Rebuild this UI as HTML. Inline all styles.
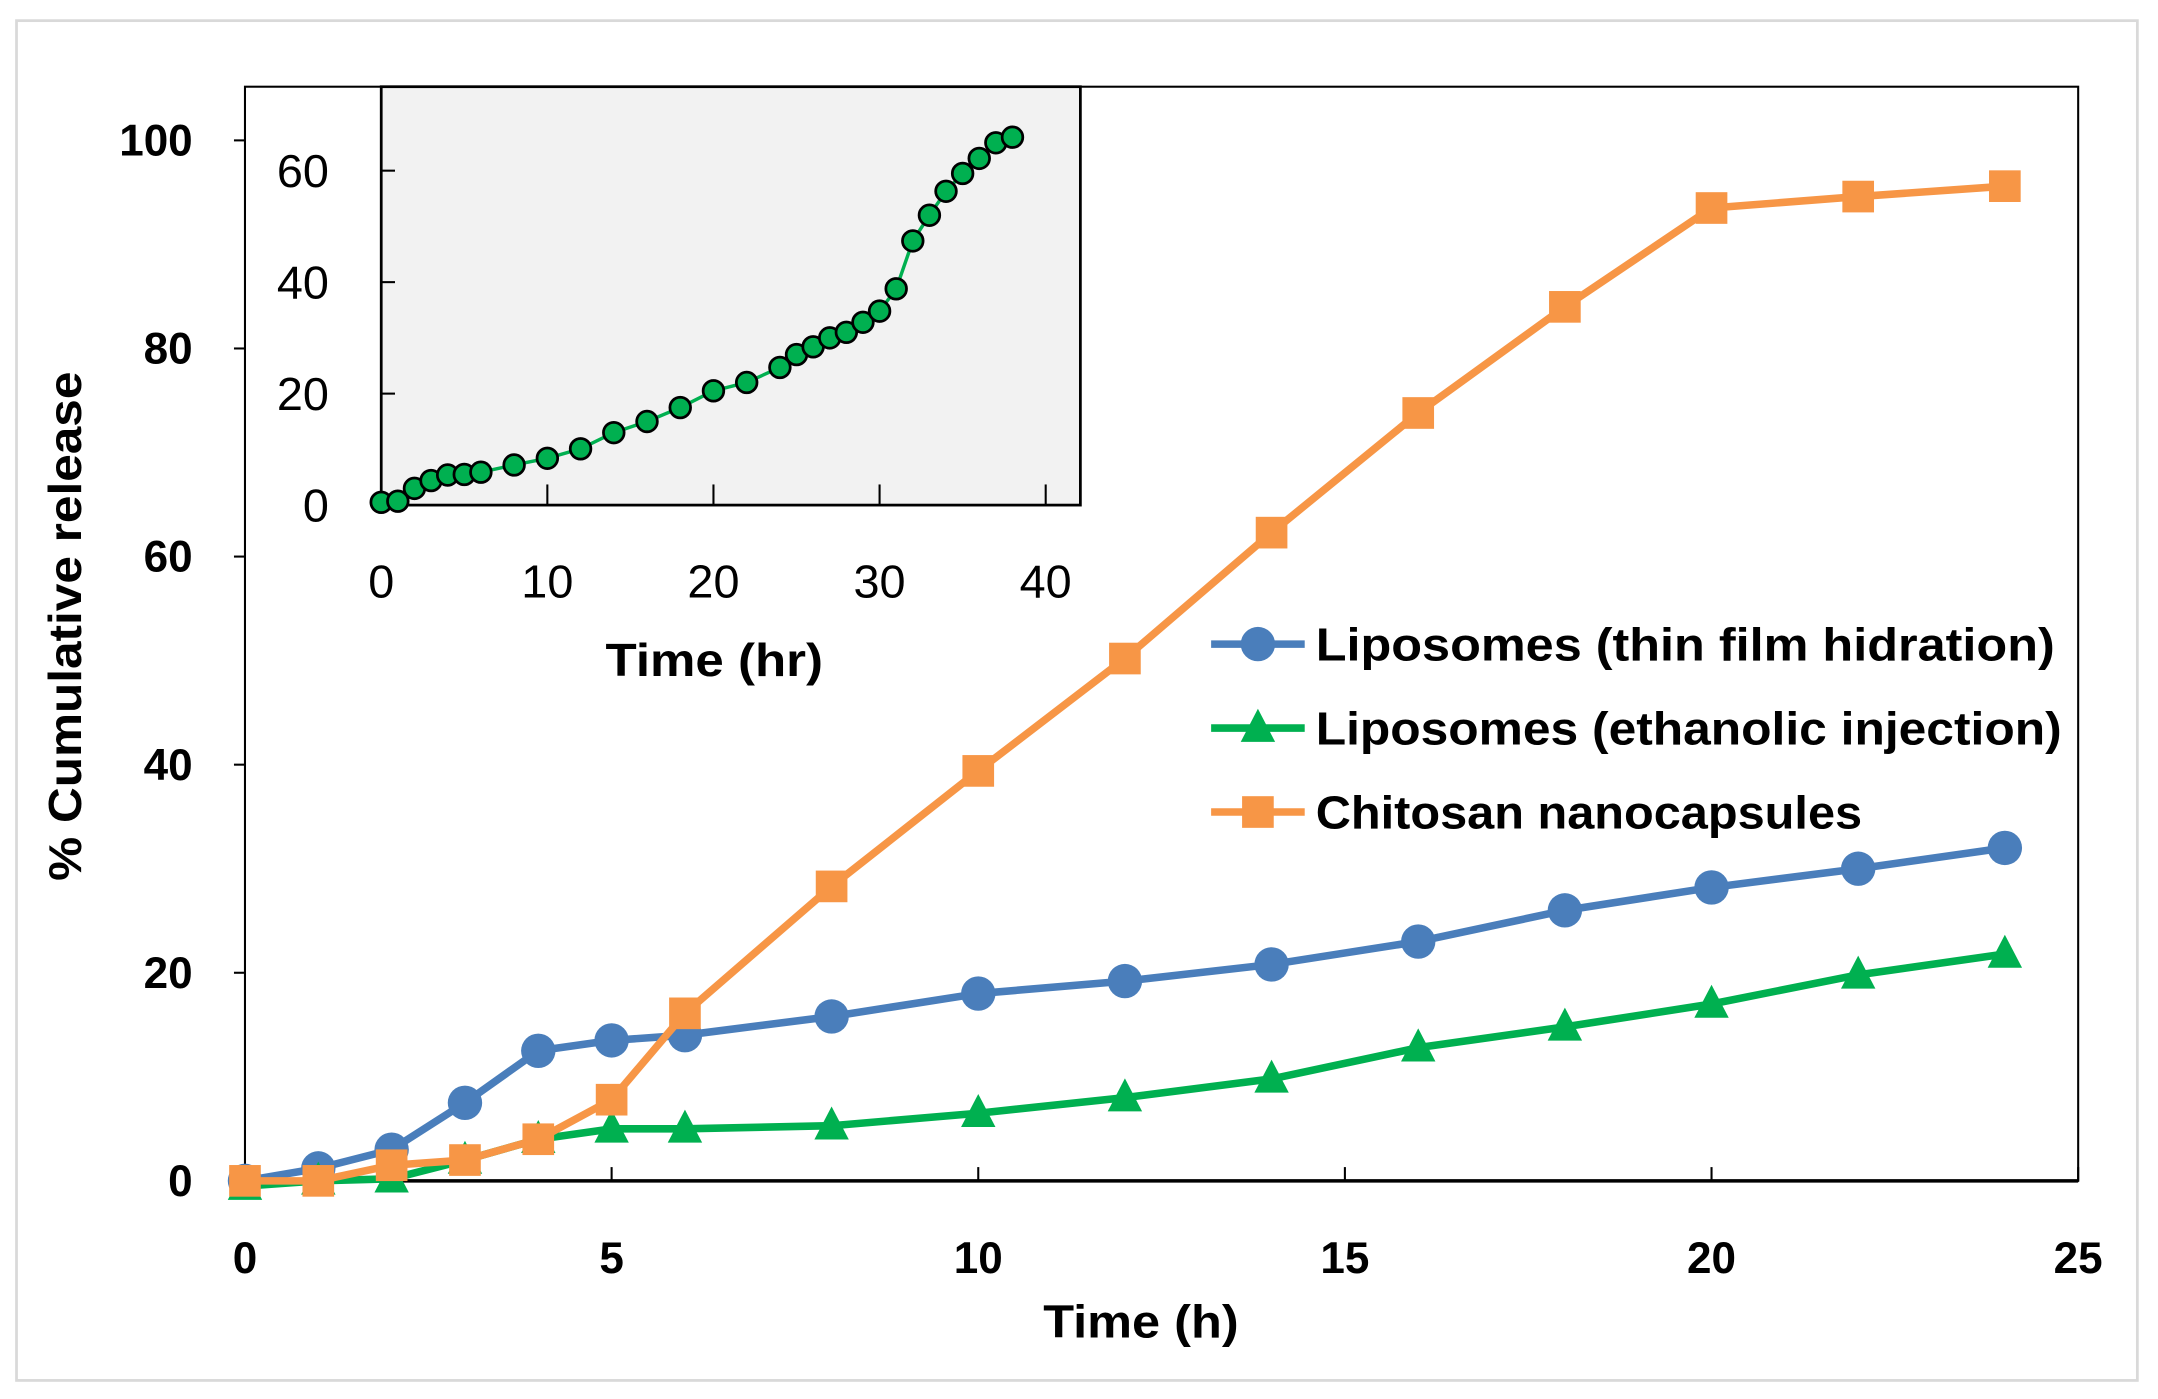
<!DOCTYPE html>
<html><head><meta charset="utf-8"><style>
html,body{margin:0;padding:0;background:#fff}
svg{display:block}
text{font-family:"Liberation Sans",sans-serif}
</style></head><body>
<svg id="chart" width="2158" height="1399" viewBox="0 0 1568 1016.5" preserveAspectRatio="none" xmlns="http://www.w3.org/2000/svg">
<rect x="12" y="15" width="1541" height="988" fill="#fff" stroke="#d9d9d9" stroke-width="2"/>
<g id="main"></g>
<g id="inset"></g>
</svg>
<script>
const mainHours=[0,1,2,3,4,5,6,8,10,12,14,16,18,20,22,24];
const liposomesThinFilm=[0,1.2,3,7.5,12.5,13.5,14,15.8,18,19.2,20.8,23,26,28.2,30,32];
const liposomesEthanolic=[-0.5,0,0.2,2,4,5,5,5.3,6.5,8,9.8,12.8,14.8,17,19.8,21.8];
const chitosanNanocapsules=[0,0,1.5,2,4,7.8,16.1,28.3,39.4,50.2,62.3,73.8,84,93.5,94.6,95.6];
const mainXTicks=[0,5,10,15,20,25];
const mainYTicks=[0,20,40,60,80,100];
const insetHours=[0,1,2,3,4,5,6,8,10,12,14,16,18,20,22,24,25,26,27,28,29,30,31,32,33,34,35,36,37,38];
const insetRelease=[0.5,0.7,3,4.4,5.4,5.5,5.9,7.2,8.4,10.1,13,15,17.5,20.5,22,24.7,27,28.4,30,31,32.8,34.8,38.8,47.4,52,56.3,59.5,62.2,65,66];
const insetXTicks=[0,10,20,30,40];
const insetYTicks=[0,20,40,60];

const NS="http://www.w3.org/2000/svg";
function mk(tag,attrs,parent,txt){const e=document.createElementNS(NS,tag);for(const k in attrs)e.setAttribute(k,attrs[k]);if(txt!==undefined)e.textContent=txt;parent.appendChild(e);return e;}
const main=document.getElementById('main'),inset=document.getElementById('inset');
const L=178,R=1510,T=63,B=858;
const mx=v=>L+v*(R-L)/25;
const my=v=>B-v*7.56;
let e=mk('rect',{x:L,y:T,width:R-L,height:B-T,fill:'#fff',stroke:'#000','stroke-width':1.5},main);


e=mk('line',{x1:L,y1:B,x2:R,y2:B,stroke:'#000','stroke-width':2.5},main);


mainYTicks.forEach(v=>{
  const t=mk('line',{x1:L-8,y1:my(v),x2:L,y2:my(v),stroke:'#000','stroke-width':1.5},main);
  
  
  const l=mk('text',{x:140,y:my(v)+11,'text-anchor':'end','font-size':32,'font-weight':'bold'},main,String(v));
  
  
});
mainXTicks.forEach(v=>{
  const t=mk('line',{x1:mx(v),y1:B,x2:mx(v),y2:B-10,stroke:'#000','stroke-width':1.5},main);
  
  
  const l=mk('text',{x:mx(v),y:925,'text-anchor':'middle','font-size':32,'font-weight':'bold'},main,String(v));
  
  
});
e=mk('text',{x:758,y:972,'font-size':34,'font-weight':'bold',textLength:142,lengthAdjust:'spacingAndGlyphs'},main,'Time (h)');


e=mk('text',{x:0,y:0,transform:'translate(59,640) rotate(-90)','font-size':34,'font-weight':'bold',textLength:370,lengthAdjust:'spacingAndGlyphs'},main,'% Cumulative release');



function marker(g,type,x,y,color){
  let m;
  if(type==='circle')m=mk('circle',{cx:x,cy:y,r:12.5,fill:color},g);
  else if(type==='square')m=mk('rect',{x:x-11.5,y:y-11.5,width:23,height:23,fill:color},g);
  else m=mk('polygon',{points:`${x},${y-14} ${x-12.5},${y+10} ${x+12.5},${y+10}`,fill:color},g);
  return m;
}
const series=[
  {name:'liposomes-thin-film',vals:liposomesThinFilm,color:'#4a7ebb',type:'circle'},
  {name:'liposomes-ethanolic',vals:liposomesEthanolic,color:'#00b050',type:'triangle'},
  {name:'chitosan-nanocapsules',vals:chitosanNanocapsules,color:'#f79646',type:'square'}
];
series.forEach(s=>{
  const g=mk('g',{},main);
  
  
  const pts=mainHours.map((h,i)=>mx(h)+','+my(s.vals[i])).join(' ');
  const pl=mk('polyline',{points:pts,fill:'none',stroke:s.color,'stroke-width':5.5,'stroke-linejoin':'round'},g);
  
  
  mainHours.forEach((h,i)=>{
    const m=marker(g,s.type,mx(h),my(s.vals[i]),s.color);
    
    
  });
});
const legLabels=['Liposomes (thin film hidration)','Liposomes (ethanolic injection)','Chitosan nanocapsules'];
const legWidths=[537,542,397];
series.forEach((s,i)=>{
  const y=468+i*61;
  const g=mk('g',{},main);
  
  
  mk('line',{x1:880,y1:y,x2:948,y2:y,stroke:s.color,'stroke-width':5.5},g);
  marker(g,s.type,914,y,s.color);
  mk('text',{x:956,y:y+12,'font-size':34,'font-weight':'bold',textLength:legWidths[i],lengthAdjust:'spacingAndGlyphs'},g,legLabels[i]);
});
const IL=277,IR=785,IT=63,IB=367;
const ix=v=>IL+v*12.07;
const iy=v=>IB-v*4.05;
e=mk('rect',{x:IL,y:IT,width:IR-IL,height:IB-IT,fill:'#f2f2f2',stroke:'#000','stroke-width':2},inset);


insetYTicks.forEach(v=>{
  const t=mk('line',{x1:IL,y1:iy(v),x2:IL+10,y2:iy(v),stroke:'#000','stroke-width':1.5},inset);
  
  
  const l=mk('text',{x:239,y:iy(v)+12,'text-anchor':'end','font-size':34},inset,String(v));
  
  
});
insetXTicks.forEach(v=>{
  const t=mk('line',{x1:ix(v),y1:IB,x2:ix(v),y2:IB-15,stroke:'#000','stroke-width':1.5},inset);
  
  
  const l=mk('text',{x:ix(v),y:434,'text-anchor':'middle','font-size':34},inset,String(v));
  
  
});
e=mk('text',{x:440,y:491,'font-size':34,'font-weight':'bold',textLength:158,lengthAdjust:'spacingAndGlyphs'},inset,'Time (hr)');


e=mk('polyline',{points:insetHours.map((h,i)=>ix(h)+','+iy(insetRelease[i])).join(' '),fill:'none',stroke:'#00b050','stroke-width':2.5},inset);


insetHours.forEach((h,i)=>{
  const c=mk('circle',{cx:ix(h),cy:iy(insetRelease[i]),r:7.5,fill:'#00b050',stroke:'#000','stroke-width':2},inset);
  
  
});
</script>
</body></html>
